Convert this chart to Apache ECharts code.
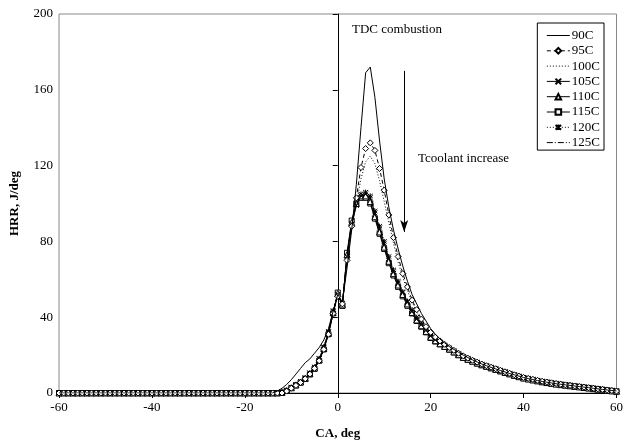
<!DOCTYPE html>
<html>
<head>
<meta charset="utf-8">
<script src="https://cdn.jsdelivr.net/npm/echarts@6/dist/echarts.min.js"></script>
<style>
  html, body { margin: 0; padding: 0; background: #fff; }
  #chart { width: 626px; height: 445px; }
</style>
</head>
<body>
<div id="chart"></div>
<script>
// crank angle, deg (-60 .. 60, 1 deg step)
var ca = [-60,-59,-58,-57,-56,-55,-54,-53,-52,-51,-50,-49,-48,-47,-46,-45,-44,-43,-42,-41,
  -40,-39,-38,-37,-36,-35,-34,-33,-32,-31,-30,-29,-28,-27,-26,-25,-24,-23,-22,-21,
  -20,-19,-18,-17,-16,-15,-14,-13,-12,-11,-10,-9,-8,-7,-6,-5,-4,-3,-2,-1,
  0,1,2,3,4,5,6,7,8,9,10,11,12,13,14,15,16,17,18,19,
  20,21,22,23,24,25,26,27,28,29,30,31,32,33,34,35,36,37,38,39,
  40,41,42,43,44,45,46,47,48,49,50,51,52,53,54,55,56,57,58,59,60]

// HRR, J/deg
var hrr90 = [0,0,0,0,0,0,0,0,0,0, 0,0,0,0,0,0,0,0,0,0, 0,0,0,0,0,0,0,0,0,0, 0,0,0,0,0,0,0,0,0,0, 0,0,0,0,0,0,0,
  1,2.5,4.5,7,10,13,16,18,21,24, 28,34,43,52,48,66,86,110,140,169, 172,156,133,113,98,86,76,67,59,52, 47,42,38,34,
  31,28.5,26.5,24.5,23,21.5,20,18.7,17.5,16.4, 15.3,14.4,13.5,12.7,11.9,11.1,10.3,9.6,8.9,8.2,
  7.6,7.1,6.6,6.1,5.7,5.3,4.9,4.6,4.3,4, 3.7,3.4,3.1,2.8,2.5,2.2,1.9,1.6,1.3,1.1]
var hrr95 = [0,0,0,0,0,0,0,0,0,0, 0,0,0,0,0,0,0,0,0,0, 0,0,0,0,0,0,0,0,0,0, 0,0,0,0,0,0,0,0,0,0, 0,0,0,0,0,0,0,
  0,0,1,2.5,4,5.5,7.5,10,13,17, 23,31,42,51,47,70,88,103,119,129, 132,128,118.5,107,94,82,72,63,56,49, 44,39,35,32,
  29.5,27.5,25.7,24,22.5,21,19.6,18.4,17.3,16.3, 15.3,14.4,13.6,12.8,12,11.2,10.4,9.6,8.9,8.2,
  7.7,7.2,6.7,6.2,5.8,5.4,5,4.6,4.3,4, 3.7,3.4,3.1,2.8,2.5,2.2,1.9,1.6,1.3,1]
var hrr100 = [0,0,0,0,0,0,0,0,0,0, 0,0,0,0,0,0,0,0,0,0, 0,0,0,0,0,0,0,0,0,0, 0,0,0,0,0,0,0,0,0,0, 0,0,0,0,0,0,0,
  0,0.5,1.2,2.7,4.2,5.8,7.8,10.2,13.2,17.5, 23.5,31.5,42.5,51.5,47,71,88,100,113,122, 125,121,112,101,90,79,69,61,54,48, 43,38.5,34.5,31,
  29,27,25.3,23.8,22.3,20.8,19.3,18.2,17.1,16.1, 15.1,14.3,13.5,12.7,11.9,11.1,10.3,9.5,8.8,8.1,
  7.6,7.1,6.6,6.1,5.7,5.3,4.9,4.5,4.2,3.9, 3.6,3.3,3,2.7,2.4,2.1,1.8,1.5,1.2,1]
var hrr105 = [0,0,0,0,0,0,0,0,0,0, 0,0,0,0,0,0,0,0,0,0, 0,0,0,0,0,0,0,0,0,0, 0,0,0,0,0,0,0,0,0,0, 0,0,0,0,0,0,0,
  0,0.5,1.5,3,4.5,6,8,10.5,13.5,18, 24,32,43,52,47,72,89,99,104,105, 103,95,87,79,71,64,58,53,48,43, 39,36,33,30,
  28,26.5,25,23.5,22,20.5,19,18,17,16, 15,14.2,13.4,12.6,11.8,11,10.2,9.4,8.7,8,
  7.5,7,6.5,6,5.6,5.2,4.8,4.5,4.2,3.9, 3.6,3.3,3,2.7,2.4,2.1,1.8,1.5,1.2,1]
var hrr110 = [0,0,0,0,0,0,0,0,0,0, 0,0,0,0,0,0,0,0,0,0, 0,0,0,0,0,0,0,0,0,0, 0,0,0,0,0,0,0,0,0,0, 0,0,0,0,0,0,0,
  0,0.3,1.3,2.8,4.3,5.8,7.7,10.2,13.2,17.6, 23.5,31.5,42.5,52.5,46.5,73,90,100,104,104, 101,93,85,77,69.5,63,57,52,47,42.5, 38.5,35.5,32.5,29.5,
  27.6,26,24.6,23.2,21.7,20.2,18.8,17.8,16.8,15.8, 14.9,14.1,13.3,12.5,11.7,10.9,10.1,9.3,8.6,7.9,
  7.4,6.9,6.4,5.9,5.5,5.1,4.7,4.4,4.1,3.8, 3.5,3.2,2.9,2.6,2.3,2,1.7,1.4,1.1,0.9]
var hrr115 = [0,0,0,0,0,0,0,0,0,0, 0,0,0,0,0,0,0,0,0,0, 0,0,0,0,0,0,0,0,0,0, 0,0,0,0,0,0,0,0,0,0, 0,0,0,0,0,0,0,
  0,0.2,1.1,2.6,4,5.5,7.4,9.8,12.8,17, 23,31,42,53,46,74,91,100,103,103, 100,92,84,76,68.5,62,56,51,46,42, 38,35,32,29,
  27.2,25.7,24.3,22.9,21.4,20,18.6,17.6,16.6,15.6, 14.7,13.9,13.1,12.3,11.5,10.7,10,9.2,8.5,7.8,
  7.3,6.8,6.3,5.8,5.4,5,4.7,4.4,4.1,3.8, 3.5,3.2,2.9,2.6,2.3,2,1.7,1.4,1.1,0.8]
var hrr120 = [0,0,0,0,0,0,0,0,0,0, 0,0,0,0,0,0,0,0,0,0, 0,0,0,0,0,0,0,0,0,0, 0,0,0,0,0,0,0,0,0,0, 0,0,0,0,0,0,0,
  0,0.4,1.4,2.9,4.4,6,8,10.6,13.8,18.3, 24.5,32.5,43.5,52,47.5,72.5,89.5,100,105,106, 104,96,88,80,72,65,59,53.5,48.5,44, 40,36.5,33.5,30.5,
  28.4,26.8,25.3,23.8,22.3,20.8,19.3,18.3,17.3,16.3, 15.3,14.5,13.7,12.9,12.1,11.3,10.5,9.7,9,8.3,
  7.8,7.3,6.8,6.3,5.9,5.5,5.1,4.8,4.5,4.2, 3.9,3.6,3.3,3,2.7,2.4,2.1,1.8,1.5,1.2]
var hrr125 = [0,0,0,0,0,0,0,0,0,0, 0,0,0,0,0,0,0,0,0,0, 0,0,0,0,0,0,0,0,0,0, 0,0,0,0,0,0,0,0,0,0, 0,0,0,0,0,0,0,
  0,0.3,1.2,2.7,4.2,5.7,7.6,10,13,17.3, 23.3,31.3,42.3,52.5,46.8,72,89,99,103.5,104, 102,94,86,78,70,63.5,57.5,52.5,47.5,43, 39,35.8,32.8,29.8,
  27.8,26.2,24.8,23.3,21.8,20.3,18.9,17.9,16.9,15.9, 15,14.2,13.4,12.6,11.8,11,10.2,9.4,8.7,8,
  7.5,7,6.5,6,5.6,5.2,4.8,4.5,4.2,3.9, 3.6,3.3,3,2.7,2.4,2.1,1.8,1.5,1.2,1]

var names = ['90C', '95C', '100C', '105C', '110C', '115C', '120C', '125C']
var values = [hrr90, hrr95, hrr100, hrr105, hrr110, hrr115, hrr120, hrr125]
var xTicks = [-60, 60, 20]
var yTicks = [0, 200, 40]
// arrow "Tcoolant increase": from / to (CA, HRR)
var arrowFrom = [14.3, 170]
var arrowTo = [14.3, 85]

var font = 'Liberation Serif, Times New Roman, serif'
var symX = 'path://M0,0L10,10M10,0L0,10'
var symStar = 'path://M0,0L10,10M10,0L0,10M5,-1L5,11'

var styles = [
    {symbol: 'none', type: 'solid'},
    {symbol: 'diamond', size: 6, type: [4, 3]},
    {symbol: 'none', type: [1, 2]},
    {symbol: symX, size: 5, type: 'solid'},
    {symbol: 'triangle', size: 6, type: 'solid'},
    {symbol: 'rect', size: 5, type: 'solid'},
    {symbol: symStar, size: 5, type: [1, 2]},
    {symbol: 'none', type: [6, 2, 1, 2]}
]

var series = []
var legendData = []
for (var s = 0; s < names.length; s++) {
    var pts = []
    for (var i = 0; i < ca.length; i++) {
        pts.push([ca[i], values[s][i]])
    }
    var st = styles[s]
    series.push({
        name: names[s],
        type: 'line',
        data: pts,
        symbol: st.symbol,
        symbolSize: st.size || 4,
        showSymbol: st.symbol != 'none',
        showAllSymbol: true,
        animation: false,
        z: 10 - s,
        lineStyle: {color: '#000', width: 1, type: st.type},
        itemStyle: {color: '#fff', borderColor: '#000', borderWidth: 1}
    })
    //没有标记的系列，图例里不画圆点
    if (st.symbol == 'none') {
        legendData.push({name: names[s], itemStyle: {opacity: 0}})
    } else {
        legendData.push({name: names[s]})
    }
}

//TDC line and arrow
series[0].markLine = {
    silent: true,
    animation: false,
    symbol: 'none',
    label: {show: false},
    lineStyle: {color: '#000', width: 1, type: 'solid'},
    data: [
        {xAxis: 0},
        [{coord: arrowFrom, symbol: 'none'}, {coord: arrowTo, symbol: 'arrow', symbolSize: [6, 12]}]
    ]
}

var myChart = echarts.init(document.getElementById('chart'))
myChart.setOption({
    backgroundColor: '#fff',
    textStyle: {fontFamily: font},
    grid: {left: 59, right: 5, top: 14, bottom: 50, show: true, borderColor: '#888', borderWidth: 1},
    legend: {
        data: legendData,
        orient: 'vertical',
        right: 22,
        top: 23,
        backgroundColor: '#fff',
        borderColor: '#000',
        borderWidth: 1,
        borderRadius: 0,
        padding: [6, 4, 1, 9],
        itemWidth: 23,
        itemHeight: 7,
        itemGap: 2.3,
        lineStyle: {width: 1},
        textStyle: {fontFamily: font, fontSize: 13, color: '#000', padding: [0, 0, 0, -3]}
    },
    xAxis: {
        type: 'value',
        min: xTicks[0],
        max: xTicks[1],
        interval: xTicks[2],
        name: 'CA, deg',
        nameLocation: 'middle',
        nameGap: 34,
        nameTextStyle: {fontFamily: font, fontSize: 13, fontWeight: 'bold', color: '#000'},
        axisLine: {lineStyle: {color: '#000', width: 1}},
        axisTick: {show: true, length: 5, lineStyle: {color: '#000'}},
        axisLabel: {fontFamily: font, fontSize: 13, color: '#000', margin: 8},
        splitLine: {show: false}
    },
    yAxis: {
        type: 'value',
        min: yTicks[0],
        max: yTicks[1],
        interval: yTicks[2],
        name: 'HRR, J/deg',
        nameLocation: 'middle',
        nameGap: 38,
        nameTextStyle: {fontFamily: font, fontSize: 13, fontWeight: 'bold', color: '#000'},
        axisLine: {show: true, lineStyle: {color: '#000', width: 1}},
        axisTick: {show: true, length: 5, lineStyle: {color: '#000'}},
        axisLabel: {fontFamily: font, fontSize: 13, color: '#000', margin: 6},
        splitLine: {show: false}
    },
    graphic: [
        {type: 'text', left: 352, top: 23, style: {text: 'TDC combustion', font: '13px ' + font, fill: '#000'}},
        {type: 'text', left: 418, top: 152, style: {text: 'Tcoolant increase', font: '13px ' + font, fill: '#000'}}
    ],
    series: series
})
</script>
</body>
</html>
